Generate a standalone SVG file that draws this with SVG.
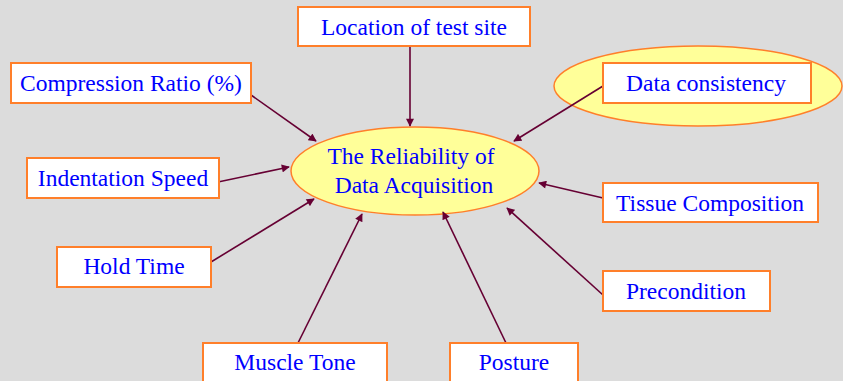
<svg xmlns="http://www.w3.org/2000/svg" width="843" height="381" viewBox="0 0 843 381">
<style>
.box{fill:#fff;stroke:#FF7F2A;stroke-width:2}
.ell{fill:#FFFF99;stroke:#FF7F2A;stroke-width:1.5}
.t{font-family:"Liberation Serif","Times New Roman",serif;font-size:23.5px;fill:#0000FF;text-anchor:middle}
.c line{stroke:#660033;stroke-width:1.6;marker-end:url(#ah)}
</style>
<defs>
<marker id="ah" viewBox="0 0 10 10" refX="9" refY="5" markerWidth="9" markerHeight="8" markerUnits="userSpaceOnUse" orient="auto">
<path d="M0,0 L10,5 L0,10 z" fill="#660033"/>
</marker>
</defs>
<rect width="843" height="381" fill="#DCDCDC"/>
<g id="n-consistency-ellipse"><ellipse class="ell" cx="698" cy="86" rx="144" ry="40"/></g>
<g id="n-center"><ellipse class="ell" cx="415" cy="171" rx="124" ry="44"/>
<text class="t" x="411" y="164">The Reliability of</text>
<text class="t" x="414" y="193">Data Acquisition</text></g>
<g class="c" id="connectors">
<line x1="410" y1="46" x2="410" y2="126"/>
<line x1="603" y1="86" x2="514" y2="141"/>
<line x1="251" y1="95" x2="316" y2="141"/>
<line x1="218" y1="182" x2="289" y2="167"/>
<line x1="211" y1="262" x2="314" y2="199"/>
<line x1="298" y1="343" x2="362" y2="214"/>
<line x1="506" y1="343" x2="443" y2="212"/>
<line x1="603" y1="198" x2="539" y2="183"/>
<line x1="603" y1="295" x2="507" y2="208"/>
</g>
<g id="n-location"><rect class="box" x="298" y="7" width="232" height="39"/><text class="t" x="414" y="35">Location of test site</text></g>
<g id="n-consistency"><rect class="box" x="603" y="63" width="208" height="40"/><text class="t" x="706" y="91">Data consistency</text></g>
<g id="n-compression"><rect class="box" x="11" y="63" width="240" height="40"/><text class="t" x="131" y="91">Compression Ratio (%)</text></g>
<g id="n-indentation"><rect class="box" x="27" y="158" width="192" height="40"/><text class="t" x="123" y="186">Indentation Speed</text></g>
<g id="n-hold"><rect class="box" x="57" y="247" width="154" height="40"/><text class="t" x="134" y="274">Hold Time</text></g>
<g id="n-muscle"><rect class="box" x="203" y="343" width="184" height="40"/><text class="t" x="295" y="370">Muscle Tone</text></g>
<g id="n-posture"><rect class="box" x="450" y="343" width="128" height="40"/><text class="t" x="514" y="370">Posture</text></g>
<g id="n-tissue"><rect class="box" x="603" y="183" width="215" height="39"/><text class="t" x="710" y="211">Tissue Composition</text></g>
<g id="n-precondition"><rect class="box" x="603" y="271" width="167" height="40"/><text class="t" x="686" y="299">Precondition</text></g>
</svg>
